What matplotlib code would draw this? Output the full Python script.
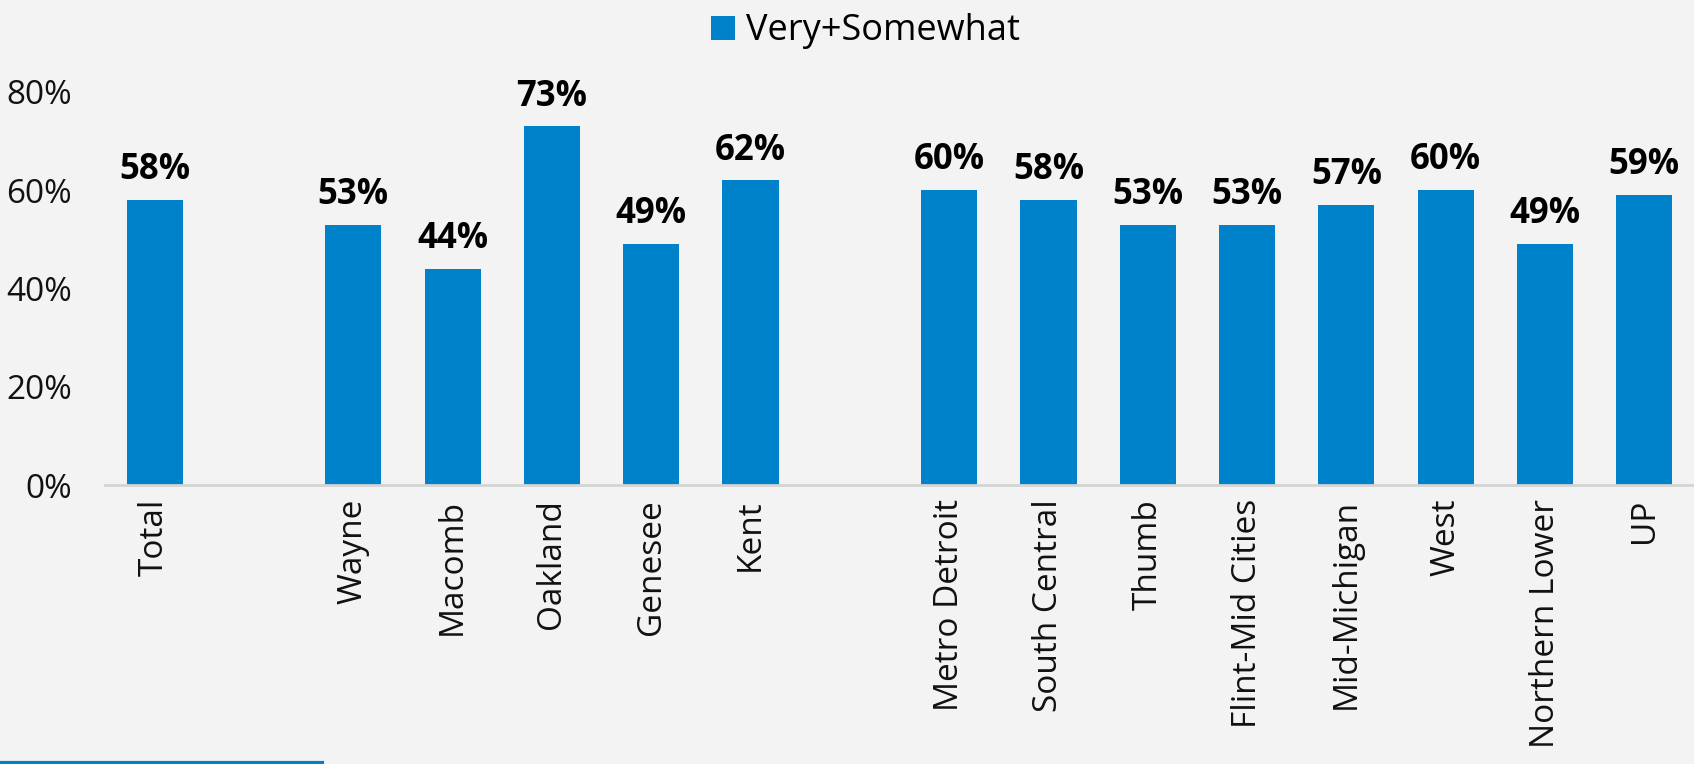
import numpy as np
import matplotlib
matplotlib.use("Agg")
import matplotlib.pyplot as plt
from matplotlib.lines import Line2D
from matplotlib.patches import Patch

# Share answering "Very" or "Somewhat", by county and region
categories = ["Total", "",
              "Wayne", "Macomb", "Oakland", "Genesee", "Kent", "",
              "Metro Detroit", "South Central", "Thumb", "Flint-Mid Cities",
              "Mid-Michigan", "West", "Northern Lower", "UP"]
values = [58, None,
          53, 44, 73, 49, 62, None,
          60, 58, 53, 53, 57, 60, 49, 59]
series_name = "Very+Somewhat"
y_ticks = [0, 20, 40, 60, 80]

BLUE = "#0082CA"
BG = "#f3f3f3"

plt.rcParams["font.family"] = ["Open Sans", "DejaVu Sans"]

fig = plt.figure(figsize=(16.94, 7.64), dpi=100, facecolor=BG)
ax = fig.add_axes([105 / 1694, 1 - 485 / 764, 1 - 105 / 1694, (485 - 92) / 764])
ax.set_facecolor(BG)

x = np.arange(len(categories))
idx = [i for i, v in enumerate(values) if v is not None]
vals = [values[i] for i in idx]
bars = ax.bar(idx, vals, width=0.565, color=BLUE, zorder=2)

for i, v in zip(idx, vals):
    ax.annotate(f"{v}%", (i, v), xytext=(0, 15), textcoords="offset points",
                ha="center", va="baseline", fontsize=25, fontweight="bold",
                color="black", annotation_clip=False)

ax.set_xlim(-0.5, len(categories) - 0.5)
ax.set_ylim(0, 80)
ax.set_yticks(y_ticks)
ax.set_yticklabels([f"{t}%" for t in y_ticks], fontsize=24, color="#111111")
ax.set_xticks(x)
ax.set_xticklabels(categories, rotation=90, fontsize=24, color="#111111",
                   va="top", ha="center")
ax.tick_params(axis="both", length=0)
ax.tick_params(axis="y", pad=24)
ax.tick_params(axis="x", pad=10)

for side in ["top", "right", "left"]:
    ax.spines[side].set_visible(False)
ax.spines["bottom"].set_color("#d4d4d4")
ax.spines["bottom"].set_linewidth(2)

handle = Patch(facecolor=BLUE, edgecolor="none")
fig.legend([handle], [series_name], loc="upper center", bbox_to_anchor=(0.511, 1.025),
           frameon=False, fontsize=26, handlelength=0.65, handleheight=0.65,
           handletextpad=0.3)

# accent stripe in the bottom-left corner
fig.add_artist(Line2D([0, 322 / 1694], [1.5 / 764, 1.5 / 764], color=BLUE,
                      linewidth=3, transform=fig.transFigure))

fig.savefig("out.png", dpi=100, facecolor=BG)
